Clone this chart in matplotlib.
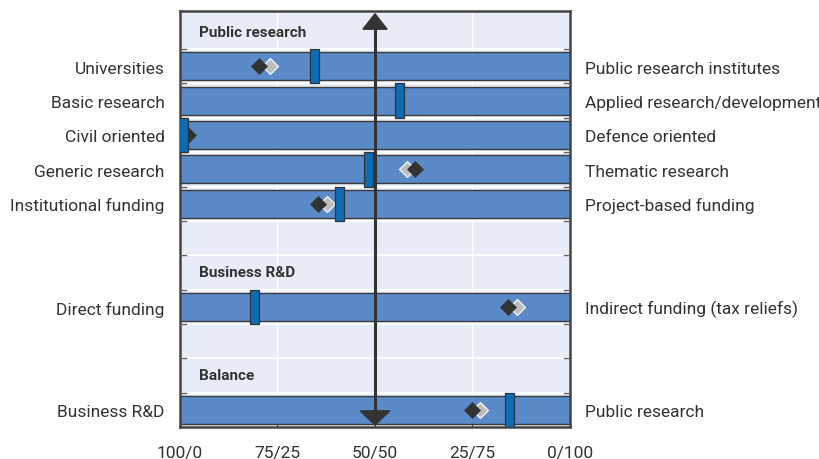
import numpy as np
import matplotlib.pyplot as plt
from matplotlib.patches import Polygon, Rectangle

plt.rcParams['font.family'] = ['Liberation Sans Narrow', 'Roboto', 'DejaVu Sans']

# rangées (index de ligne 0 = haut)
row_pos = [1, 2, 3, 4, 5, 8, 11]
left_labels = ['Universities', 'Basic research', 'Civil oriented', 'Generic research',
               'Institutional funding', 'Direct funding', 'Business R&D']
right_labels = ['Public research institutes', 'Applied research/development', 'Defence oriented',
                'Thematic research', 'Project-based funding', 'Indirect funding (tax reliefs)',
                'Public research']
blue_vals = [34.4, 56.4, 1.0, 48.3, 41.0, 19.0, 84.4]
black_vals = [20.3, None, 2.0, 60.3, 35.4, 84.1, 74.9]
gray_vals = [23.1, None, None, 58.2, 37.7, 86.4, 76.9]

headers = ['Public research', 'Business R&D', 'Balance']
header_rows = [0, 7, 10]

tick_vals = [0, 25, 50, 75, 100]
tick_labels = ['100/0', '75/25', '50/50', '25/75', '0/100']

fig = plt.figure(figsize=(8.2, 4.6), dpi=100)
ax = fig.add_axes([180/820, 1 - 428/460, 390/820, 416/460])
ax.set_facecolor('#E8ECF7')
ax.set_xlim(0, 100)
ax.set_ylim(11.5, -0.61)

# grille blanche
for y in np.arange(0.5, 11, 1):
    ax.axhline(y, color='white', lw=1.3, zorder=1)
for x in [25, 75]:
    ax.axvline(x, color='white', lw=1.0, zorder=1)

# barres
for r in row_pos:
    ax.barh(r, 100, left=0, height=0.82, color='#5A8AC8', edgecolor='#3a3a3a', lw=1.0, zorder=2)

# petites graduations sur les côtés
for y in np.arange(0.5, 11, 1):
    ax.plot([0, 1.6], [y, y], color='#666666', lw=1.0, zorder=3)
    ax.plot([98.4, 100], [y, y], color='#666666', lw=1.0, zorder=3)

# diamants
for r, g in zip(row_pos, gray_vals):
    if g is not None:
        ax.plot(g, r, marker='D', ms=8.5, color='#BDBDBD', mec='white', mew=0.8, zorder=4)
for r, b in zip(row_pos, black_vals):
    if b is not None:
        ax.plot(b, r, marker='D', ms=8.5, color='#333333', mec='#333333', mew=0.5, zorder=5)

# rectangles bleus
for r, v in zip(row_pos, blue_vals):
    ax.add_patch(Rectangle((v - 1.15, r - 0.5), 2.3, 1.0, facecolor='#0A6DB5',
                           edgecolor='#333333', lw=0.9, zorder=6))

# flèche centrale
ax.plot([50, 50], [-0.3, 11.2], color='#333333', lw=2.2, zorder=7)
ax.add_patch(Polygon([[46.9, -0.08], [53.1, -0.08], [50, -0.53]], closed=True,
                     color='#333333', zorder=8))
ax.add_patch(Polygon([[46.2, 11.03], [53.8, 11.03], [50, 11.44]], closed=True,
                     color='#333333', zorder=8))

# titres de section
for h, r in zip(headers, header_rows):
    ax.text(5, r, h, fontsize=11, fontweight='bold', color='#333333',
            ha='left', va='center', zorder=9)

# libellés
for r, lab in zip(row_pos, left_labels):
    ax.text(-3.9, r + 0.05, lab, fontsize=12.5, color='#333333', ha='right', va='center', clip_on=False)
for r, lab in zip(row_pos, right_labels):
    ax.text(3.9 + 100, r + 0.05, lab, fontsize=12.5, color='#333333', ha='left', va='center', clip_on=False)

ax.set_xticks(tick_vals)
ax.set_xticklabels(tick_labels, fontsize=12.5, color='#333333')
ax.tick_params(axis='x', direction='in', length=5, color='#333333', pad=13)
ax.set_yticks([])
for s in ax.spines.values():
    s.set_color('#444444')
    s.set_linewidth(1.8)

fig.savefig('out.png', dpi=100)
